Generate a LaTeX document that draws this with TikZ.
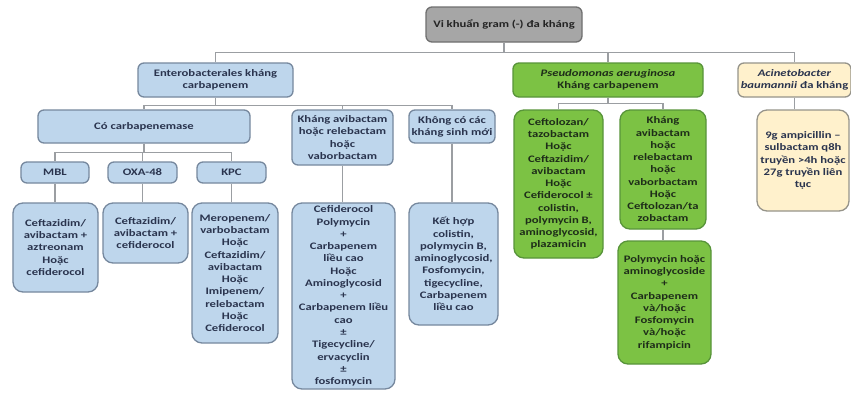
\documentclass[tikz,border=0pt]{standalone}
\usepackage{fontspec}
\setmainfont{Carlito}[FakeStretch=1.27]
\usetikzlibrary{calc}
\definecolor{bluefill}{RGB}{190,214,236}
\definecolor{blueline}{RGB}{118,136,158}
\definecolor{greenfill}{RGB}{124,194,68}
\definecolor{greenline}{RGB}{88,148,58}
\definecolor{beigefill}{RGB}{255,241,204}
\definecolor{beigeline}{RGB}{150,148,138}
\definecolor{grayfill}{RGB}{166,166,166}
\definecolor{grayline}{RGB}{112,112,112}
\definecolor{lineg}{RGB}{155,158,162}
\definecolor{txt}{RGB}{42,52,78}
\definecolor{gtxt}{RGB}{30,45,25}
\definecolor{rtxt}{RGB}{35,35,35}
\tikzset{
  box/.style={draw, line width=1.3bp, rounded corners=6bp, align=center, inner sep=0pt,
    font=\bfseries\fontsize{10}{12.3}\selectfont, text=txt},
  bluebox/.style={box, fill=bluefill, draw=blueline},
  greenbox/.style={box, fill=greenfill, draw=greenline, text=gtxt},
  beigebox/.style={box, fill=beigefill, draw=beigeline},
  graybox/.style={box, fill=grayfill, draw=grayline, text=rtxt},
  tall/.style={rounded corners=10bp},
  conn/.style={draw=lineg, line width=1.3bp},
}
\begin{document}
\begin{tikzpicture}[x=1bp,y=-1bp]
\useasboundingbox[fill=white] (0,0) rectangle (851,394);
% level 0
\node[graybox, minimum width=156bp, minimum height=35bp] (root) at (504,24.5) {Vi khuẩn gram (-) đa kháng};
% level 1
\node[bluebox, minimum width=155bp, minimum height=34bp] (entero) at (215.5,80) {Enterobacterales kháng\\carbapenem};
\node[greenbox, minimum width=190bp, minimum height=34bp] (pseudo) at (608,80) {\textit{Pseudomonas aeruginosa}\\Kháng carbapenem};
\node[beigebox, minimum width=113bp, minimum height=34bp] (acin) at (794.5,80) {\textit{Acinetobacter}\\\textit{baumannii} đa kháng};
% level 2
\node[bluebox, minimum width=212bp, minimum height=33bp] (cocarb) at (144,126.5) {Có carbapenemase};
\node[bluebox, minimum width=101bp, minimum height=55bp] (khangavi) at (342.5,137.5) {Kháng avibactam\\hoặc relebactam\\hoặc\\vaborbactam};
\node[bluebox, minimum width=86bp, minimum height=33bp] (khongco) at (452,126.5) {Không có các\\kháng sinh mới};
\node[greenbox, tall, minimum width=89bp, minimum height=148bp] (p1) at (558.5,184) {Ceftolozan/\\tazobactam\\Hoặc\\Ceftazidim/\\avibactam\\Hoặc\\Cefiderocol ±\\colistin,\\polymycin B,\\aminoglycosid,\\plazamicin};
\node[greenbox, tall, minimum width=86bp, minimum height=119bp] (p2) at (663,169.5) {Kháng\\avibactam\\hoặc\\relebactam\\hoặc\\vaborbactam\\Hoặc\\Ceftolozan/ta\\zobactam};
\node[greenbox, tall, minimum width=93bp, minimum height=123bp] (p3) at (664.5,302.5) {Polymycin hoặc\\aminoglycoside\\+\\Carbapenem\\và/hoặc\\Fosfomycin\\và/hoặc\\rifampicin};
\node[beigebox, tall, minimum width=92bp, minimum height=101bp] (a2) at (803,160.5) {9g ampicillin –\\sulbactam q8h\\truyền >4h hoặc\\27g truyền liên\\tục};
% level 3
\node[bluebox, minimum width=68bp, minimum height=21bp] (mbl) at (55,172.5) {MBL};
\node[bluebox, minimum width=69bp, minimum height=21bp] (oxa) at (142.5,172.5) {OXA-48};
\node[bluebox, minimum width=69bp, minimum height=21bp] (kpc) at (231.5,172.5) {KPC};
% level 4
\node[bluebox, tall, minimum width=85bp, minimum height=89bp] (b1) at (55.5,247.5) {Ceftazidim/\\avibactam +\\aztreonam\\Hoặc\\cefiderocol};
\node[bluebox, tall, minimum width=85bp, minimum height=60bp] (b2) at (145.5,233) {Ceftazidim/\\avibactam +\\cefiderocol};
\node[bluebox, tall, minimum width=86bp, minimum height=140bp] (b3) at (235,273) {Meropenem/\\varbobactam\\Hoặc\\Ceftazidim/\\avibactam\\Hoặc\\Imipenem/\\relebactam\\Hoặc\\Cefiderocol};
\node[bluebox, tall, minimum width=103bp, minimum height=186bp] (b4) at (343.5,296) {Cefiderocol\\Polymycin\\+\\Carbapenem\\liều cao\\Hoặc\\Aminoglycosid\\+\\Carbapenem liều\\cao\\±\\Tigecycline/\\ervacyclin\\±\\fosfomycin};
\node[bluebox, tall, minimum width=89bp, minimum height=122bp] (b5) at (453.5,264) {Kết hợp\\colistin,\\polymycin B,\\aminoglycosid,\\Fosfomycin,\\tigecycline,\\Carbapenem\\liều cao};
% connectors
\draw[conn] (root.south) -- ($(root.south)+(0,10)$) -| (entero.north);
\draw[conn] ($(root.south)+(0,10)$) -| (pseudo.north);
\draw[conn] ($(root.south)+(0,10)$) -| (acin.north);
\draw[conn] (entero.south) -- ($(entero.south)+(0,8)$) -| (cocarb.north);
\draw[conn] ($(entero.south)+(0,8)$) -| (khangavi.north);
\draw[conn] ($(entero.south)+(0,8)$) -| (khongco.north);
\draw[conn] (cocarb.south) -- ($(cocarb.south)+(0,9)$) -| (mbl.north);
\draw[conn] ($(cocarb.south)+(0,9)$) -| (oxa.north);
\draw[conn] ($(cocarb.south)+(0,9)$) -| (kpc.north);
\draw[conn] (mbl.south) -- (b1.north -| mbl.south);
\draw[conn] (oxa.south) -- (b2.north -| oxa.south);
\draw[conn] (kpc.south) -- (b3.north -| kpc.south);
\draw[conn] (khangavi.south) -- (b4.north -| khangavi.south);
\draw[conn] (khongco.south) -- (b5.north -| khongco.south);
\draw[conn] (pseudo.south) -- ($(pseudo.south)+(0,6)$) -| (p1.north);
\draw[conn] ($(pseudo.south)+(0,6)$) -| (p2.north);
\draw[conn] (p2.south) -- (p3.north -| p2.south);
\draw[conn] (acin.south) -- (a2.north -| acin.south);
\end{tikzpicture}
\end{document}
